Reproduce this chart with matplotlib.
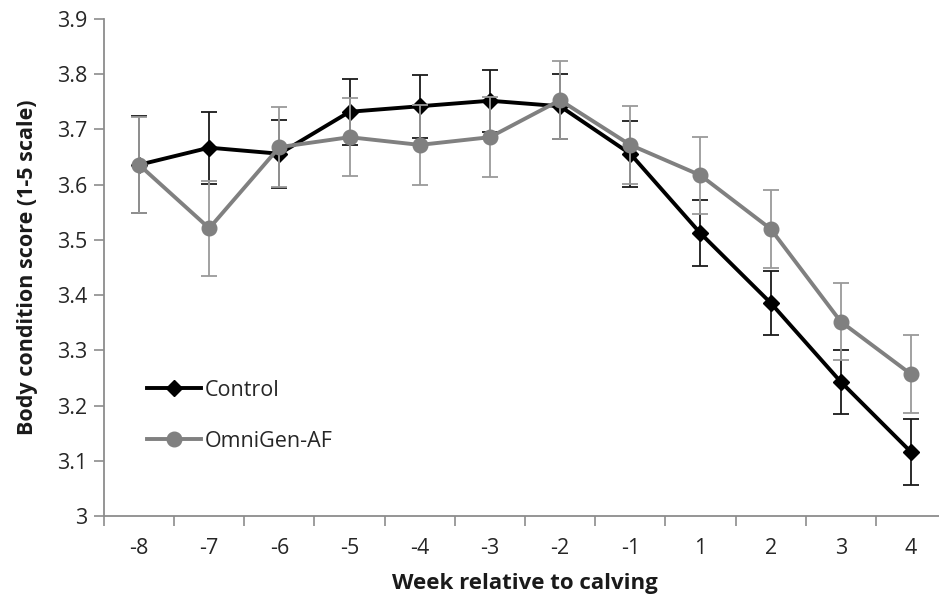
import matplotlib
matplotlib.use("Agg")
import matplotlib.pyplot as plt
from matplotlib.lines import Line2D

weeks = ["-8", "-7", "-6", "-5", "-4", "-3", "-2", "-1", "1", "2", "3", "4"]
control = [3.636, 3.667, 3.656, 3.732, 3.742, 3.752, 3.742, 3.656, 3.512, 3.386, 3.243, 3.116]
control_se = [0.088, 0.065, 0.062, 0.060, 0.057, 0.056, 0.059, 0.060, 0.060, 0.058, 0.058, 0.060]
omnigen = [3.636, 3.521, 3.668, 3.686, 3.672, 3.686, 3.753, 3.672, 3.617, 3.520, 3.352, 3.257]
omnigen_se = [0.087, 0.086, 0.072, 0.071, 0.072, 0.072, 0.071, 0.070, 0.070, 0.070, 0.070, 0.070]

plt.rcParams['font.family'] = ['Open Sans', 'DejaVu Sans']

fig = plt.figure(figsize=(9.39, 6.04), dpi=100)
ax = fig.add_axes([104 / 939, 88 / 604, 842 / 939, 497 / 604])

x = list(range(len(weeks)))
axis_grey = "#8c8c8c"
ctrl_style = dict(color="black", lw=2.8, marker="D", markersize=8)
omni_style = dict(color="#808080", lw=2.8, marker="o", markersize=10.5)

ax.errorbar(x, control, yerr=control_se, capsize=5.5, elinewidth=1.3, capthick=1.3,
            ecolor="#1a1a1a", zorder=3, **ctrl_style)
ax.errorbar(x, omnigen, yerr=omnigen_se, capsize=5.5, elinewidth=1.3, capthick=1.3,
            ecolor="#9a9a9a", zorder=4, **omni_style)

ax.set_xlim(-0.5, len(weeks) - 0.5)
ax.set_ylim(3.0, 3.9)
ax.set_yticks([3.0 + 0.1 * i for i in range(10)])
ax.set_yticklabels(["3", "3.1", "3.2", "3.3", "3.4", "3.5", "3.6", "3.7", "3.8", "3.9"])
ax.set_xticks(x)
ax.set_xticklabels(weeks)
ax.set_xticks([i - 0.5 for i in range(len(weeks) + 1)], minor=True)

ax.tick_params(axis="x", which="major", length=0, pad=16, labelsize=15.5, labelcolor="#262626")
ax.tick_params(axis="x", which="minor", length=7, width=1.2, color=axis_grey, direction="out")
ax.tick_params(axis="y", length=7, width=1.2, color=axis_grey, direction="out",
               labelsize=15.5, labelcolor="#262626", pad=5)

for side in ("top", "right"):
    ax.spines[side].set_visible(False)
for side in ("left", "bottom"):
    ax.spines[side].set_color(axis_grey)
    ax.spines[side].set_linewidth(1.3)

ax.set_xlabel("Week relative to calving", fontsize=16, fontweight="bold", labelpad=10, color="#1a1a1a")
ax.set_ylabel("Body condition score (1-5 scale)", fontsize=15.5, fontweight="bold", labelpad=14, color="#1a1a1a")

handles = [Line2D([], [], **ctrl_style), Line2D([], [], **omni_style)]
ax.legend(handles, ["Control", "OmniGen-AF"], loc="lower left", bbox_to_anchor=(0.028, 0.09),
          frameon=False, fontsize=15.5, handlelength=2.5, handletextpad=0.2, labelspacing=1.4,
          labelcolor="#262626")

fig.savefig("out.png", dpi=100)
